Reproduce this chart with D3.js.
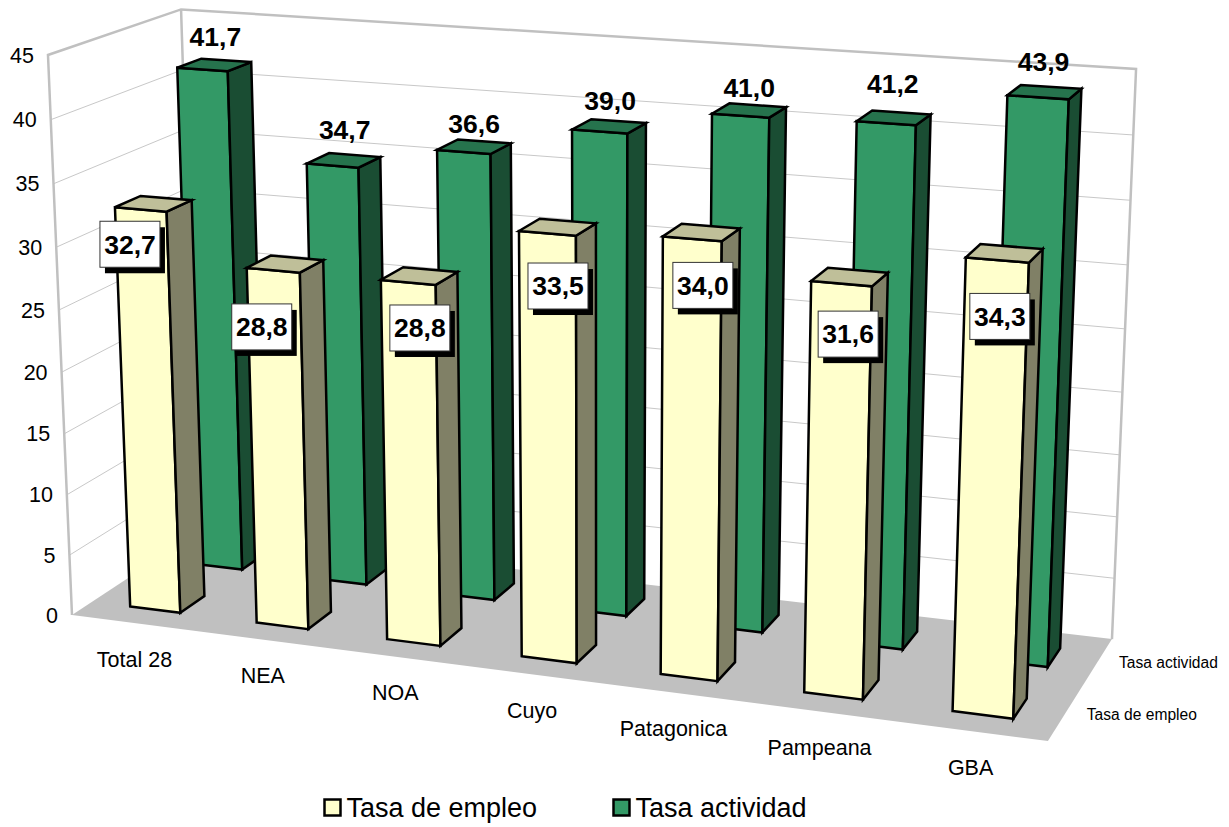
<!DOCTYPE html>
<html lang="en">
<head>
<meta charset="UTF-8">
<title>Tasa de empleo y actividad</title>
<script src="https://d3js.org/d3.v7.min.js"></script>
<style>
  html, body { margin: 0; background: #fff; }
  text { font-family: 'Liberation Sans', Arial, sans-serif; fill: #000; }
</style>
</head>
<body>
<div id="chart"></div>
<script>
var categories = ["Total 28", "NEA", "NOA", "Cuyo", "Patagonica", "Pampeana", "GBA"];
var seriesNames = ["Tasa de empleo", "Tasa actividad"];
var tasaEmpleo = [32.7, 28.8, 28.8, 33.5, 34.0, 31.6, 34.3];
var tasaActividad = [41.7, 34.7, 36.6, 39.0, 41.0, 41.2, 43.9];
var valueTicks = [0, 5, 10, 15, 20, 25, 30, 35, 40, 45];

// data labels were placed by hand in the original, so each one gets its own nudge
var boxNudge = [[15, 37], [15, 59], [39, 48], [39, 55], [40, 49], [37, 53], [34, 59]];
var topNudge = [[1, 0], [1, -3], [0, 5], [1, 2], [0, 5], [-1, -6], [-1, -2]];

var svg = d3.select("#chart").append("svg")
  .attr("width", 1229)
  .attr("height", 827);

// all scales work in a unit box: u along categories, w into the page, t up
var x_scale = d3.scaleBand().domain(categories).range([0.0008, 1.001]).paddingInner(0.6).paddingOuter(0.3);
var z_scale = d3.scaleBand().domain(seriesNames).range([0, 1]).paddingInner(0.62).paddingOuter(0.3);
var y_scale = d3.scaleLinear().domain([0, 45]).range([0, 1]);

// camera fitted to the corners of the floor and walls
function project(u, w, t) {
  var den = 1 - 0.1072 * u + 0.0753 * w - 0.0435 * t;
  var px = 863.6 * u + 140.9 * w + 72 - 26.1 * t;
  var py = 46.6 * u - 42.9 * w + 615 - 562.4 * t + 7.5 * u * t;
  return [px / den, py / den];
}

var line = d3.line();
function face(corners) {
  return line(corners.map(function (c) { return project(c[0], c[1], c[2]); })) + "Z";
}

// floor
svg.append("path")
  .attr("d", face([[0, 0, 0], [1, 0, 0], [1, 1, 0], [0, 1, 0]]))
  .attr("fill", "#c0c0c0");

// gridlines on the two walls
var grid = svg.append("g");
valueTicks.slice(1, -1).forEach(function (v) {
  var t = y_scale(v);
  grid.append("path")
    .attr("d", line([project(0, 0, t), project(0, 1, t), project(1, 1, t)]))
    .attr("fill", "none")
    .attr("stroke", "#c8c8c8")
    .attr("stroke-width", 1);
});

// wall frame
svg.append("path")
  .attr("d", line([[0, 0, 0], [0, 0, 1], [0, 1, 1], [1, 1, 1], [1, 1, 0]].map(function (c) { return project(c[0], c[1], c[2]); })))
  .attr("fill", "none")
  .attr("stroke", "#c0c0c0")
  .attr("stroke-width", 2.5);
svg.append("path")
  .attr("d", line([project(0, 1, 0), project(0, 1, 1)]))
  .attr("stroke", "#c0c0c0")
  .attr("stroke-width", 2.5);

// value axis labels follow the slanted left edge
svg.append("g").selectAll("text")
  .data(valueTicks)
  .enter()
  .append("text")
  .attr("x", function (d) { return project(0, 0, y_scale(d))[0] - 14; })
  .attr("y", function (d) { return project(0, 0, y_scale(d))[1]; })
  .attr("dy", "0.35em")
  .attr("text-anchor", "end")
  .style("font-size", "21.5px")
  .text(function (d) { return d; });

// category labels under the front edge of the floor
svg.append("g").selectAll("text")
  .data(categories)
  .enter()
  .append("text")
  .attr("x", function (d) { return project(x_scale(d) + x_scale.bandwidth() / 2, 0, 0)[0] - 1; })
  .attr("y", function (d) { return project(x_scale(d) + x_scale.bandwidth() / 2, 0, 0)[1] + 36; })
  .attr("dy", "0.35em")
  .attr("text-anchor", "middle")
  .style("font-size", "21.5px")
  .text(function (d) { return d; });

// series labels beside the right edge of the floor
svg.append("g").selectAll("text")
  .data(seriesNames)
  .enter()
  .append("text")
  .attr("x", function (d) { return project(1, z_scale(d) + z_scale.bandwidth() / 2, 0)[0] + 22; })
  .attr("y", function (d) { return project(1, z_scale(d) + z_scale.bandwidth() / 2, 0)[1]; })
  .attr("dy", "0.35em")
  .style("font-size", "15.6px")
  .text(function (d) { return d; });

function drawBars(name, values, colors) {
  var w0 = z_scale(name);
  var w1 = w0 + z_scale.bandwidth();
  var bars = svg.append("g")
    .attr("stroke", "#000")
    .attr("stroke-width", 2.5)
    .attr("stroke-linejoin", "miter")
    .selectAll("g")
    .data(values)
    .enter()
    .append("g");

  function u0(i) { return x_scale(categories[i]); }
  function u1(i) { return u0(i) + x_scale.bandwidth(); }

  bars.append("path")
    .attr("fill", colors.front)
    .attr("d", function (d, i) {
      var t = y_scale(d);
      return face([[u0(i), w0, 0], [u1(i), w0, 0], [u1(i), w0, t], [u0(i), w0, t]]);
    });
  bars.append("path")
    .attr("fill", colors.side)
    .attr("d", function (d, i) {
      var t = y_scale(d);
      return face([[u1(i), w0, 0], [u1(i), w1, 0], [u1(i), w1, t], [u1(i), w0, t]]);
    });
  bars.append("path")
    .attr("fill", colors.top)
    .attr("d", function (d, i) {
      var t = y_scale(d);
      return face([[u0(i), w0, t], [u1(i), w0, t], [u1(i), w1, t], [u0(i), w1, t]]);
    });
}

drawBars("Tasa actividad", tasaActividad, { front: "#339966", side: "#1a4d33", top: "#26734d" });
drawBars("Tasa de empleo", tasaEmpleo, { front: "#ffffcc", side: "#808066", top: "#bfbf99" });

// labels over the green bars
svg.append("g").selectAll("text")
  .data(tasaActividad)
  .enter()
  .append("text")
  .attr("x", function (d, i) {
    var mid = x_scale(categories[i]) + x_scale.bandwidth() / 2;
    return project(mid, z_scale("Tasa actividad") + z_scale.bandwidth() / 2, y_scale(d))[0] + topNudge[i][0];
  })
  .attr("y", function (d, i) {
    var mid = x_scale(categories[i]) + x_scale.bandwidth() / 2;
    return project(mid, z_scale("Tasa actividad") + z_scale.bandwidth() / 2, y_scale(d))[1] - 28 + topNudge[i][1];
  })
  .attr("dy", "0.35em")
  .attr("text-anchor", "middle")
  .style("font-size", "26.5px")
  .style("font-weight", "bold")
  .text(function (d) { return d.toFixed(1).replace(".", ","); });

// boxed labels on the yellow bars
var boxes = svg.append("g").selectAll("g")
  .data(tasaEmpleo)
  .enter()
  .append("g")
  .attr("transform", function (d, i) {
    var p = project(x_scale(categories[i]), z_scale("Tasa de empleo"), y_scale(d));
    return "translate(" + (p[0] + boxNudge[i][0]) + "," + (p[1] + boxNudge[i][1]) + ")";
  });
boxes.append("rect")
  .attr("x", -25).attr("y", -17).attr("width", 60).attr("height", 46)
  .attr("fill", "#000");
boxes.append("rect")
  .attr("x", -30).attr("y", -23).attr("width", 60).attr("height", 46)
  .attr("fill", "#fff")
  .attr("stroke", "#333")
  .attr("stroke-width", 1);
boxes.append("text")
  .attr("dy", "0.35em")
  .attr("text-anchor", "middle")
  .style("font-size", "26.5px")
  .style("font-weight", "bold")
  .text(function (d) { return d.toFixed(1).replace(".", ","); });

// legend
var legend = svg.append("g").selectAll("g")
  .data(seriesNames)
  .enter()
  .append("g")
  .attr("transform", function (d, i) { return "translate(" + [324.5, 613.5][i] + ",799.5)"; });
legend.append("rect")
  .attr("width", 16).attr("height", 16)
  .attr("fill", function (d, i) { return ["#ffffcc", "#339966"][i]; })
  .attr("stroke", "#000")
  .attr("stroke-width", 2.5);
legend.append("text")
  .attr("x", 22)
  .attr("y", 17)
  .style("font-size", "27px")
  .text(function (d) { return d; });
</script>
</body>
</html>
